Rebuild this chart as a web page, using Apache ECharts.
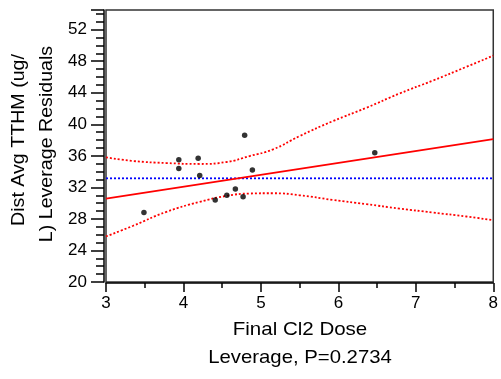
<!DOCTYPE html>
<html><head><meta charset="utf-8">
<script src="https://cdn.jsdelivr.net/npm/echarts@6/dist/echarts.min.js"></script>
<style>html,body{margin:0;padding:0;background:#fff}#c{width:501px;height:379px}</style>
</head><body><div id="c"></div>
<script>
// Data
const pointsX = [3.49, 3.94, 3.94, 4.19, 4.21, 4.41, 4.56, 4.67, 4.77, 4.79, 4.89, 6.47];
const pointsY = [28.8, 35.5, 34.4, 35.7, 33.5, 30.4, 31.0, 31.8, 30.8, 38.6, 34.2, 36.4];
const fitX = [3, 8];
const fitY = [30.58, 38.13];
const meanY = 33.15;
const bandX = [3.0, 3.35, 3.78, 4.21, 4.555, 4.856, 5.156, 5.50, 5.93, 6.36, 6.79, 7.22, 7.65, 8.0];
const upperY = [35.81, 35.35, 35.09, 34.97, 35.22, 35.98, 36.82, 38.51, 40.41, 42.09, 43.91, 45.55, 47.28, 48.71];
const lowerY = [25.78, 27.13, 28.90, 30.16, 30.92, 31.22, 31.26, 31.00, 30.41, 29.87, 29.32, 28.81, 28.31, 27.84];
const xTitle = 'Final Cl2 Dose';
const subTitle = 'Leverage, P=0.2734';
const yTitle1 = 'Dist Avg TTHM (ug/';
const yTitle2 = 'L) Leverage Residuals';

const zip = (a, b) => a.map((v, i) => [v, b[i]]);
const FONT = '"Liberation Sans", Arial, sans-serif';

const chart = echarts.init(document.getElementById('c'), null, {renderer: 'canvas'});
chart.setOption({
  animation: false,
  grid: {left: 106, right: 7, top: 10, bottom: 97, show: true, borderColor: '#333', borderWidth: 1.5, backgroundColor: 'transparent'},
  xAxis: {
    type: 'value', min: 3, max: 8, interval: 1, offset: 1,
    axisLine: {show: true, onZero: false, lineStyle: {color: '#000', width: 1.5}},
    axisTick: {show: true, length: 9, lineStyle: {color: '#000', width: 1.5}},
    minorTick: {show: true, splitNumber: 2, length: 5, lineStyle: {color: '#000', width: 1.5}},
    splitLine: {show: false},
    axisLabel: {color: '#000', fontSize: 17, fontFamily: FONT, margin: 12}
  },
  yAxis: {
    type: 'value', min: 20, max: 54.5, interval: 4, offset: 2,
    axisLine: {show: true, onZero: false, lineStyle: {color: '#000', width: 1.5}},
    axisTick: {show: true, length: 13, lineStyle: {color: '#000', width: 1.5}},
    minorTick: {show: true, splitNumber: 4, length: 8, lineStyle: {color: '#000', width: 1.5}},
    splitLine: {show: false},
    axisLabel: {color: '#000', fontSize: 17, fontFamily: FONT, margin: 17, showMaxLabel: false,
      formatter: v => (v % 4 === 0 ? String(v) : '')}
  },
  series: [
    {type: 'line', data: zip(bandX, upperY), smooth: true, showSymbol: false, symbol: 'none',
      lineStyle: {color: '#ff0000', width: 1.8, type: [2, 2]}, z: 3},
    {type: 'line', data: zip(bandX, lowerY), smooth: true, showSymbol: false, symbol: 'none',
      lineStyle: {color: '#ff0000', width: 1.8, type: [2, 2]}, z: 3},
    {type: 'line', data: [[fitX[0], meanY], [fitX[1], meanY]], showSymbol: false, symbol: 'none',
      lineStyle: {color: '#0000ff', width: 1.8, type: [2, 2]}, z: 2},
    {type: 'line', data: zip(fitX, fitY), showSymbol: false, symbol: 'none',
      lineStyle: {color: '#ff0000', width: 1.8}, z: 4},
    {type: 'scatter', data: zip(pointsX, pointsY), symbol: 'circle', symbolSize: 5.5,
      itemStyle: {color: '#000'}, z: 5}
  ],
  graphic: [
    {type: 'text', x: 300, y: 330, scaleX: 1.08, style: {text: xTitle, fontSize: 19, fontFamily: FONT, fill: '#000', textAlign: 'center', textVerticalAlign: 'middle'}},
    {type: 'text', x: 300, y: 358, scaleX: 1.07, style: {text: subTitle, fontSize: 19, fontFamily: FONT, fill: '#000', textAlign: 'center', textVerticalAlign: 'middle'}},
    {type: 'text', x: 19, y: 140, rotation: Math.PI / 2, scaleX: 1.09, style: {text: yTitle1, fontSize: 18, fontFamily: FONT, fill: '#000', textAlign: 'center', textVerticalAlign: 'middle'}},
    {type: 'text', x: 47, y: 144, rotation: Math.PI / 2, scaleX: 1.09, style: {text: yTitle2, fontSize: 18, fontFamily: FONT, fill: '#000', textAlign: 'center', textVerticalAlign: 'middle'}}
  ]
});
</script></body></html>
